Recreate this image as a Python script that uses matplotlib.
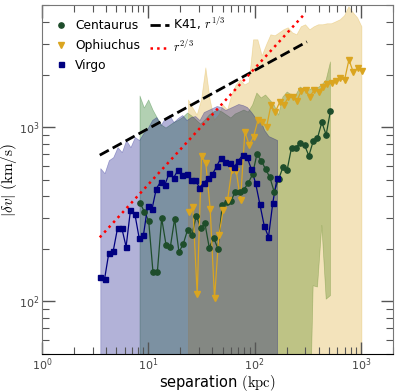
import matplotlib.pyplot as plt

plt.rcParams['mathtext.fontset'] = 'cm'
plt.rcParams['font.family'] = 'DejaVu Sans'

# separation (kpc) and |dv| (km/s)
virgo_sep = [3.54, 3.88, 4.26, 4.68, 5.14, 5.64, 6.19, 6.80, 7.47, 8.20,
             9.00, 9.88, 10.85, 11.91, 13.08, 14.36, 15.76, 17.31, 19.00, 20.86,
             22.90, 25.14, 27.60, 30.30, 33.27, 36.52, 40.10, 44.03, 48.34, 53.07,
             58.27, 63.97, 70.23, 77.11, 84.65, 92.94, 102.0, 112.0, 123.0, 135.0,
             148.3, 162.8]
virgo_dv = [138, 134, 190, 194, 263, 263, 206, 333, 319, 232,
            239, 353, 339, 444, 485, 468, 546, 511, 566, 532,
            537, 496, 496, 450, 478, 507, 535, 597, 666, 632,
            619, 587, 640, 690, 675, 576, 478, 361, 272, 234,
            369, 511]
virgo_hi = [581, 544, 646, 672, 767, 718, 842, 767, 876, 842,
            924, 987, 1097, 1141, 1027, 1127, 1172, 1068, 1127, 1172,
            1097, 1141, 1156, 1097, 1219, 1252, 1286, 1320, 1303, 1252,
            1286, 1320, 1356, 1337, 1303, 1219, 1127, 1110, 961, 888,
            865, 842]

cent_sep = [8.36, 9.19, 10.09, 11.08, 12.17, 13.36, 14.68, 16.12, 17.70, 19.44,
            21.35, 23.45, 25.75, 28.28, 31.06, 34.11, 37.46, 41.14, 45.19, 49.63,
            54.50, 59.86, 65.74, 72.20, 79.29, 87.08, 95.63, 105.0, 115.3, 126.7,
            139.1, 152.8, 167.8, 184.3, 202.4, 222.3, 244.1, 268.1, 294.4, 323.4,
            355.1, 390.0, 428.3, 470.4, 516.6]
cent_dv = [368, 327, 290, 147, 147, 300, 212, 205, 298, 192,
           214, 258, 240, 311, 264, 280, 203, 232, 201, 359,
           371, 377, 425, 423, 438, 478, 535, 699, 642, 574,
           514, 425, 501, 587, 570, 762, 760, 815, 788, 684,
           828, 865, 1064, 903, 1241]
cent_hi = [1507, 1286, 1430, 1252, 1127, 1027, 987, 1027, 1068, 1097,
           1141, 1204, 1156, 1097, 1040, 1097, 1172, 1219, 1252, 1219,
           1172, 1127, 1188, 1219, 1252, 1219, 1337, 1567, 1468, 1527,
           1430, 1337, 1172, 1486, 1589, 1527, 1527, 1698, 1632, 1632,
           1675, 1675, 1743, 1862, 2364]
cent_lo = [10, 10, 10, 10, 10, 10, 10, 10, 10, 10,
           10, 10, 10, 10, 10, 10, 10, 10, 10, 10,
           10, 10, 10, 10, 10, 10, 10, 10, 10, 10,
           10, 10, 10, 10, 10, 10, 10, 10, 10, 10,
           123, 121, 273, 103, 108]

oph_sep = [23.90, 26.27, 28.84, 31.68, 34.79, 38.22, 41.98, 46.11, 50.64, 55.63,
           61.09, 67.11, 73.71, 80.96, 88.92, 97.68, 107.3, 117.8, 129.4, 142.2,
           156.1, 171.5, 188.4, 206.9, 227.3, 249.6, 274.2, 301.2, 330.8, 363.4,
           399.0, 438.4, 481.5, 528.9, 580.8, 638.0, 700.7, 769.7, 845.3, 928.6,
           1020]
oph_dv = [326, 346, 110, 681, 619, 338, 104, 239, 333, 381,
          566, 561, 381, 940, 788, 880, 1090, 1072, 1000, 1330,
          1219, 1383, 1338, 1477, 1477, 1410, 1610, 1632, 1494, 1632,
          1596, 1705, 1766, 1783, 1846, 1900, 1862, 2427, 2070, 2175,
          2090]
oph_hi = [1430, 1286, 1172, 1430, 2184, 1430, 1097, 1172, 1337, 1252,
          1527, 1743, 1862, 1743, 1800, 3162, 3162, 2558, 2960, 3379,
          3335, 3470, 3610, 3707, 3470, 3379, 3757, 3857, 3610, 3757,
          3857, 3857, 3908, 3908, 4010, 4120, 4345, 4895, 4520, 4230,
          3757]

floor_v = 10  # lower envelope drops below the plotted range

# reference power laws, end points
k41_r = [3.5, 310]
k41_v = [690, 3080]
r23_r = [3.5, 300]
r23_v = [233, 4500]

fig = plt.figure(figsize=(3.99, 3.92), dpi=100)
ax = fig.add_axes([0.105, 0.097, 0.88, 0.89])

ax.fill_between(cent_sep, cent_lo, cent_hi, color='darkgreen', alpha=0.3, lw=0.5)
ax.fill_between(oph_sep, floor_v, oph_hi, color='goldenrod', alpha=0.3, lw=0.5)
ax.fill_between(virgo_sep, floor_v, virgo_hi, color='navy', alpha=0.3, lw=0.5)

ax.plot(cent_sep, cent_dv, '-', color='#1e4d2b', lw=0.9)
ax.plot(oph_sep, oph_dv, '-', color='goldenrod', lw=0.9)
ax.plot(virgo_sep, virgo_dv, '-', color='navy', lw=0.9)
ax.plot(cent_sep, cent_dv, 'o', color='#1e4d2b', ms=3.8, ls='none', label='Centaurus')
ax.plot(oph_sep, oph_dv, 'v', color='goldenrod', ms=4.5, ls='none', label='Ophiuchus')
ax.plot(virgo_sep, virgo_dv, 's', color='navy', ms=3.6, ls='none', label='Virgo')

ax.plot(k41_r, k41_v, 'k--', lw=2, label=r'K41, $r^{1/3}$')
ax.plot(r23_r, r23_v, 'r:', lw=1.8, label=r'$r^{2/3}$')

ax.set_xscale('log')
ax.set_yscale('log')
ax.set_xlim(1, 2000)
ax.set_ylim(50, 5000)

ax.tick_params(which='both', direction='in', top=True, right=True,
               labelsize=8, labelcolor='#444444', color='#555555', pad=2)
ax.tick_params(which='major', length=9, width=1)
ax.tick_params(which='minor', length=5, width=0.8)
for side in ['left', 'top', 'right']:
    ax.spines[side].set_color('#777777')
ax.spines['bottom'].set_color('black')

ax.set_xlabel(r'separation $(\rm kpc)$', fontsize=10.5, labelpad=0)
ax.set_ylabel(r'$|\delta v|\ (\rm km/s)$', fontsize=11, labelpad=0)

ax.legend(loc='upper left', ncol=2, frameon=False, fontsize=8.8, numpoints=1,
          handlelength=1.6, handletextpad=0.3, columnspacing=0.8,
          borderaxespad=0.4, labelspacing=0.55)

fig.savefig('out.png', dpi=100)
